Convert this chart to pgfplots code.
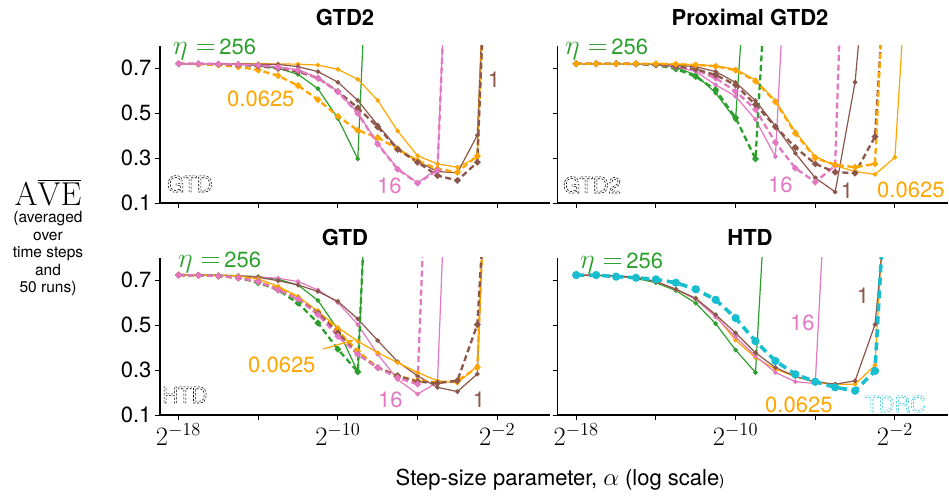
\documentclass[border=0pt]{standalone}
\usepackage[no-math]{fontspec}
\setmainfont{TeX Gyre Heros}
\usepackage{pgfplots}
\pgfplotsset{compat=1.18}
\usetikzlibrary{arrows.meta}
\definecolor{cG}{HTML}{2CA02C}
\definecolor{cO}{HTML}{FFA500}
\definecolor{cP}{HTML}{E377C2}
\definecolor{cB}{HTML}{8C564B}
\definecolor{cC}{HTML}{17BECF}
\newcommand{\outl}[1]{\special{pdf:literal direct 1 Tr 0.55 w [2.2 1.5] 0 d}#1\special{pdf:literal direct 0 Tr [] 0 d}}
\newcommand{\xl}[1]{\scalebox{1.28}{$2^{#1}$}}
\newcommand{\etaeq}{\scalebox{1.35}{$\eta=$}\,}
\pgfplotsset{
  panel/.style={scale only axis, width=390pt, height=157.5pt,
    xmin=-18.93, xmax=0.65, ymin=0.1, ymax=0.8,
    axis x line*=bottom, axis y line*=left, axis line style={-, line width=1.1pt},
    xtick={-18,-14,-10,-6,-2}, ytick={0.1,0.3,0.5,0.7},
    tick align=outside, major tick length=5pt, tick style={black, line width=0.9pt},
    yticklabel style={font=\fontsize{22}{22}\selectfont},
    xticklabel style={font=\fontsize{22}{22}\selectfont},
    xticklabels={}, yticklabels={}},
  leftp/.style={yticklabels={0.1,0.3,0.5,0.7}},
  botp/.style={xticklabels={\xl{-18},,\xl{-10},,\xl{-2}}},
  sol/.style={line width=1.2pt, mark=*, mark size=1.7pt, mark options={solid}},
  dsh/.style={line width=2.3pt, dash pattern=on 6pt off 3.5pt, mark=*, mark size=1.9pt, mark options={solid}},
}
\begin{document}
\begin{tikzpicture}
\useasboundingbox (0pt,0pt) rectangle (949pt,499pt);
% ---------------- GTD2 (top left)
\begin{axis}[panel, leftp, at={(160pt,296pt)}, anchor=south west]
\addplot[sol, cG] coordinates {(-18,0.719)(-17,0.719)(-16,0.719)(-15,0.716)(-14,0.710)(-13,0.699)(-12,0.672)(-11,0.608)(-10,0.476)(-9,0.296)(-8,2.3)};
\addplot[sol, cO] coordinates {(-18,0.719)(-17,0.719)(-16,0.719)(-15,0.719)(-14,0.719)(-13,0.718)(-12,0.717)(-11,0.713)(-10,0.694)(-9,0.650)(-8,0.556)(-7,0.420)(-6,0.310)(-5,0.274)(-4,0.259)(-3,0.303)(-2,2.6)};
\addplot[sol, cB] coordinates {(-18,0.719)(-17,0.719)(-16,0.719)(-15,0.718)(-14,0.717)(-13,0.716)(-12,0.706)(-11,0.684)(-10,0.637)(-9,0.556)(-8,0.446)(-7,0.344)(-6,0.285)(-5,0.240)(-4,0.234)(-3,0.401)(-2,2.5)};
\addplot[sol, cP] coordinates {(-18,0.719)(-17,0.719)(-16,0.718)(-15,0.716)(-14,0.713)(-13,0.705)(-12,0.691)(-11,0.657)(-10,0.596)(-9,0.501)(-8,0.365)(-7,0.252)(-6,0.190)(-5,0.252)(-4,2.45)};
\addplot[dsh, cO] coordinates {(-18,0.719)(-17,0.717)(-16,0.713)(-15,0.705)(-14,0.691)(-13,0.666)(-12,0.622)(-11,0.559)(-10,0.486)(-9,0.423)(-8,0.391)(-7,0.340)(-6,0.288)(-5,0.252)(-4,0.237)(-3,0.310)(-2,2.5)};
\addplot[dsh, cB] coordinates {(-18,0.719)(-17,0.719)(-16,0.717)(-15,0.714)(-14,0.708)(-13,0.698)(-12,0.684)(-11,0.655)(-10,0.596)(-9,0.523)(-8,0.438)(-7,0.338)(-6,0.281)(-5,0.222)(-4,0.200)(-3,0.281)(-2,2.5)};
\addplot[dsh, cP] coordinates {(-18,0.719)(-17,0.719)(-16,0.718)(-15,0.716)(-14,0.712)(-13,0.704)(-12,0.690)(-11,0.655)(-10,0.594)(-9,0.498)(-8,0.362)(-7,0.250)(-6,0.188)(-5,0.245)(-4,2.4)};
\end{axis}
% ---------------- Proximal GTD2 (top right)
\begin{axis}[panel, at={(557.7pt,296pt)}, anchor=south west]
\addplot[sol, cG] coordinates {(-18,0.719)(-17,0.719)(-16,0.719)(-15,0.718)(-14,0.715)(-13,0.703)(-12,0.669)(-11,0.589)(-10,0.471)(-9,1.79)};
\addplot[sol, cP] coordinates {(-18,0.719)(-17,0.719)(-16,0.719)(-15,0.718)(-14,0.716)(-13,0.706)(-12,0.684)(-11,0.625)(-10,0.574)(-9,0.471)(-8,0.306)(-7,2.05)};
\addplot[sol, cB] coordinates {(-18,0.719)(-17,0.719)(-16,0.719)(-15,0.719)(-14,0.718)(-13,0.713)(-12,0.706)(-11,0.684)(-10,0.636)(-9,0.555)(-8,0.442)(-7,0.321)(-6,0.212)(-5,0.149)(-4,0.637)(-3,1.62)};
\addplot[sol, cO] coordinates {(-18,0.719)(-17,0.719)(-16,0.719)(-15,0.719)(-14,0.719)(-13,0.717)(-12,0.715)(-11,0.710)(-10,0.694)(-9,0.647)(-8,0.555)(-7,0.416)(-6,0.306)(-5,0.266)(-4,0.240)(-3,0.227)(-2,0.303)(-1,1.73)};
\addplot[dsh, cG] coordinates {(-18,0.719)(-17,0.719)(-16,0.719)(-15,0.717)(-14,0.713)(-13,0.696)(-12,0.662)(-11,0.603)(-10,0.479)(-9,0.296)(-8,1.81)};
\addplot[dsh, cP] coordinates {(-18,0.719)(-17,0.719)(-16,0.719)(-15,0.718)(-14,0.715)(-13,0.705)(-12,0.691)(-11,0.655)(-10,0.596)(-9,0.516)(-8,0.369)(-7,0.255)(-6,0.193)(-5,0.266)(-4,2.94)};
\addplot[dsh, cB] coordinates {(-18,0.719)(-17,0.719)(-16,0.719)(-15,0.718)(-14,0.716)(-13,0.708)(-12,0.695)(-11,0.669)(-10,0.625)(-9,0.537)(-8,0.439)(-7,0.347)(-6,0.274)(-5,0.237)(-4,0.233)(-3,0.395)(-2,1.83)};
\addplot[dsh, cO] coordinates {(-18,0.719)(-17,0.719)(-16,0.719)(-15,0.719)(-14,0.719)(-13,0.717)(-12,0.714)(-11,0.708)(-10,0.690)(-9,0.642)(-8,0.550)(-7,0.410)(-6,0.300)(-5,0.270)(-4,0.259)(-3,0.274)(-2,2.13)};
\end{axis}
% ---------------- GTD (bottom left)
\begin{axis}[panel, leftp, botp, at={(160pt,84pt)}, anchor=south west]
\addplot[sol, cG] coordinates {(-18,0.722)(-17,0.722)(-16,0.722)(-15,0.719)(-14,0.715)(-13,0.703)(-12,0.678)(-11,0.609)(-10,0.480)(-9,0.292)(-8,2.35)};
\addplot[sol, cP] coordinates {(-18,0.722)(-17,0.722)(-16,0.721)(-15,0.719)(-14,0.713)(-13,0.708)(-12,0.693)(-11,0.656)(-10,0.600)(-9,0.502)(-8,0.370)(-7,0.258)(-6,0.193)(-5,0.245)(-4,2.5)};
\addplot[sol, cB] coordinates {(-18,0.722)(-17,0.722)(-16,0.721)(-15,0.718)(-14,0.712)(-13,0.697)(-12,0.678)(-11,0.649)(-10,0.605)(-9,0.527)(-8,0.431)(-7,0.337)(-6,0.274)(-5,0.223)(-4,0.204)(-3,0.282)(-2,2.5)};
\addplot[sol, cO] coordinates {(-18,0.722)(-17,0.722)(-16,0.721)(-15,0.718)(-14,0.705)(-13,0.672)(-12,0.627)(-11,0.560)(-10,0.489)(-9,0.428)(-8,0.377)(-7,0.333)(-6,0.289)(-5,0.252)(-4,0.242)(-3,0.318)(-2,2.5)};
\addplot[dsh, cG] coordinates {(-18,0.722)(-17,0.721)(-16,0.718)(-15,0.710)(-14,0.688)(-13,0.656)(-12,0.597)(-11,0.509)(-10,0.392)(-9,0.292)(-8,2.3)};
\addplot[dsh, cO] coordinates {(-18,0.722)(-17,0.721)(-16,0.718)(-15,0.710)(-14,0.693)(-13,0.663)(-12,0.619)(-11,0.560)(-10,0.475)(-9,0.384)(-8,0.311)(-7,0.274)(-6,0.252)(-5,0.245)(-4,0.252)(-3,0.311)(-2,2.5)};
\addplot[dsh, cB] coordinates {(-18,0.722)(-17,0.721)(-16,0.718)(-15,0.710)(-14,0.693)(-13,0.656)(-12,0.615)(-11,0.553)(-10,0.465)(-9,0.370)(-8,0.311)(-7,0.274)(-6,0.248)(-5,0.242)(-4,0.252)(-3,0.502)(-2,2.0)};
\addplot[dsh, cP] coordinates {(-18,0.722)(-17,0.721)(-16,0.718)(-15,0.710)(-14,0.693)(-13,0.656)(-12,0.615)(-11,0.546)(-10,0.450)(-9,0.370)(-8,0.311)(-7,0.265)(-6,0.237)(-5,2.5)};
\end{axis}
% ---------------- HTD (bottom right)
\begin{axis}[panel, botp, at={(557.7pt,84pt)}, anchor=south west]
\addplot[sol, cG] coordinates {(-18,0.722)(-17,0.721)(-16,0.718)(-15,0.707)(-14,0.688)(-13,0.653)(-12,0.597)(-11,0.506)(-10,0.389)(-9,0.289)(-8,1.85)};
\addplot[sol, cO] coordinates {(-18,0.722)(-17,0.721)(-16,0.718)(-15,0.712)(-14,0.693)(-13,0.659)(-12,0.615)(-11,0.541)(-10,0.433)(-9,0.355)(-8,0.304)(-7,0.271)(-6,0.245)(-5,0.237)(-4,0.237)(-3,0.321)(-2,1.9)};
\addplot[sol, cP] coordinates {(-18,0.722)(-17,0.721)(-16,0.718)(-15,0.712)(-14,0.693)(-13,0.659)(-12,0.615)(-11,0.536)(-10,0.447)(-9,0.362)(-8,0.289)(-7,0.248)(-6,0.240)(-5,1.95)};
\addplot[sol, cB] coordinates {(-18,0.722)(-17,0.721)(-16,0.718)(-15,0.712)(-14,0.693)(-13,0.659)(-12,0.619)(-11,0.546)(-10,0.465)(-9,0.377)(-8,0.311)(-7,0.271)(-6,0.248)(-5,0.237)(-4,0.252)(-3,0.502)(-2,1.43)};
\addplot[cC, line width=3.6pt, dash pattern=on 8pt off 5pt, mark=*, mark size=2.2pt, mark options={solid}] coordinates {(-18,0.722)(-17,0.722)(-16,0.715)(-15,0.710)(-14,0.703)(-13,0.688)(-12,0.659)(-11,0.612)(-10,0.531)(-9,0.428)(-8,0.340)(-7,0.281)(-6,0.248)(-5,0.223)(-4,0.208)(-3,0.296)(-2,1.9)};
\end{axis}
% ---------------- titles
\begin{scope}[every node/.style={inner sep=0pt}]
\node[anchor=base, font=\fontsize{22}{22}\selectfont\bfseries] at (345pt,473pt) {GTD2};
\node[anchor=base, font=\fontsize{22}{22}\selectfont\bfseries] at (750pt,473pt) {Proximal GTD2};
\node[anchor=base, font=\fontsize{22}{22}\selectfont\bfseries] at (345pt,254pt) {GTD};
\node[anchor=base, font=\fontsize{22}{22}\selectfont\bfseries] at (750pt,254pt) {HTD};
% y label
\node[anchor=base, font=\fontsize{37}{37}\selectfont] at (48pt,294pt) {\scalebox{1.33}{$\mathrm{A}\overline{\mathrm{VE}}$}};
\node[anchor=base, font=\fontsize{15.5}{15.5}\selectfont] at (48pt,277pt) {(averaged};
\node[anchor=base, font=\fontsize{15.5}{15.5}\selectfont] at (48pt,259pt) {over};
\node[anchor=base, font=\fontsize{15.5}{15.5}\selectfont] at (48pt,242pt) {time steps};
\node[anchor=base, font=\fontsize{15.5}{15.5}\selectfont] at (48pt,224pt) {and};
\node[anchor=base, font=\fontsize{15.5}{15.5}\selectfont] at (48pt,207pt) {50 runs)};
% x label
\node[anchor=base, font=\fontsize{22}{22}\selectfont] at (560pt,14pt) {Step-size parameter, \scalebox{1.2}{$\alpha$} (log scale{\fontsize{15}{15}\selectfont )}};
% curve labels
\begin{scope}[font=\fontsize{22}{22}\selectfont]
\node[anchor=base west, cG] at (173pt,444pt) {\etaeq 256};
\node[anchor=base west, cO] at (227pt,392pt) {0.0625};
\node[anchor=base west, cP] at (377pt,306pt) {16};
\node[anchor=base, cB] at (494pt,411pt) {1};
\node[anchor=base west, black] at (167pt,307pt) {\outl{GTD}};
\node[anchor=base west, cG] at (565pt,444pt) {\etaeq 256};
\node[anchor=base west, cP] at (768pt,307pt) {16};
\node[anchor=base, cB] at (847pt,301pt) {1};
\node[anchor=base west, cO] at (877pt,302pt) {0.0625};
\node[anchor=base west, black] at (563pt,306pt) {\outl{GTD2}};
\node[anchor=base west, cG] at (178pt,232pt) {\etaeq 256};
\node[anchor=base west, cO] at (248pt,127pt) {0.0625};
\node[anchor=base west, cP] at (378pt,92pt) {16};
\node[anchor=base, cB] at (479pt,92pt) {1};
\node[anchor=base west, black] at (162pt,96pt) {\outl{HTD}};
\node[anchor=base west, cG] at (580pt,231pt) {\etaeq 256};
\node[anchor=base west, cP] at (790pt,169pt) {16};
\node[anchor=base, cB] at (863pt,196pt) {1};
\node[anchor=base west, cO] at (765pt,87pt) {0.0625};
\node[anchor=base west, cC] at (865pt,87pt) {\outl{TDRC}};
\end{scope}
\end{scope}
\draw[cO, line width=1.2pt, -{Stealth[length=9pt,width=6pt]}] (323pt,150pt) -- (354pt,159pt);
\end{tikzpicture}
\end{document}
